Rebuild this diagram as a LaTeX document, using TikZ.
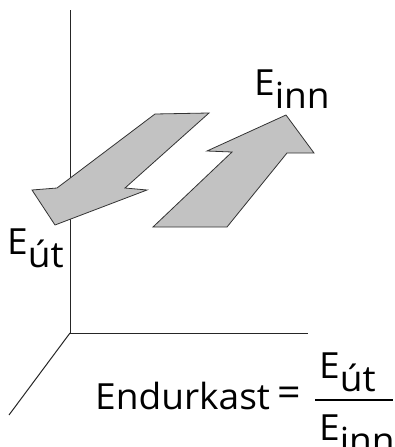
\documentclass[tikz,border=0pt]{standalone}
\usepackage{fontspec}
\setmainfont[FakeStretch=1.03]{Open Sans}
\newcommand{\Esb}[1]{E\raisebox{-13pt}{#1}}
\tikzset{
  axis/.style={draw=black!85, line width=1pt},
  flowarrow/.style={draw=black!80, line width=0.8pt, fill=black!24, line join=miter},
  lbl/.style={inner sep=0pt, anchor=base west, font=\fontsize{36}{40}\selectfont},
}
\begin{document}
\begin{tikzpicture}[x=1pt,y=-1pt]
\useasboundingbox (0,0) rectangle (394,447);
% axes
\coordinate (O) at (70,333);
\coordinate (ytop) at (70,10);
\coordinate (xend) at (308,333);
\coordinate (zend) at (9,415);
\draw[axis] (ytop) -- (O) -- (xend);
\draw[axis] (O) -- (zend);
% arrows
\draw[flowarrow] (209,113) -- (155,114) -- (57,188) -- (32,190) -- (55,225) -- (147,190) -- (125,188) -- cycle;
\draw[flowarrow] (153,227) -- (227,227) -- (287,153) -- (314,153) -- (286,115) -- (207,151) -- (232,152) -- cycle;
% labels
\node[lbl] (einn) at (254,95) {\Esb{inn}};
\node[lbl] (eut) at (7,254) {\Esb{út}};
\node[lbl] (endur) at (95,409) {Endurkast};
\node[lbl, anchor=center, font=\fontsize{40}{44}\selectfont] (eq) at (289,397) {=};
\node[lbl] (num) at (319,378) {\Esb{út}};
\node[lbl] (den) at (319,440) {\Esb{inn}};
\coordinate (barL) at (315,400);
\coordinate (barR) at (393,400);
\draw[line width=1.2pt] (barL) -- (barR);
\end{tikzpicture}
\end{document}
